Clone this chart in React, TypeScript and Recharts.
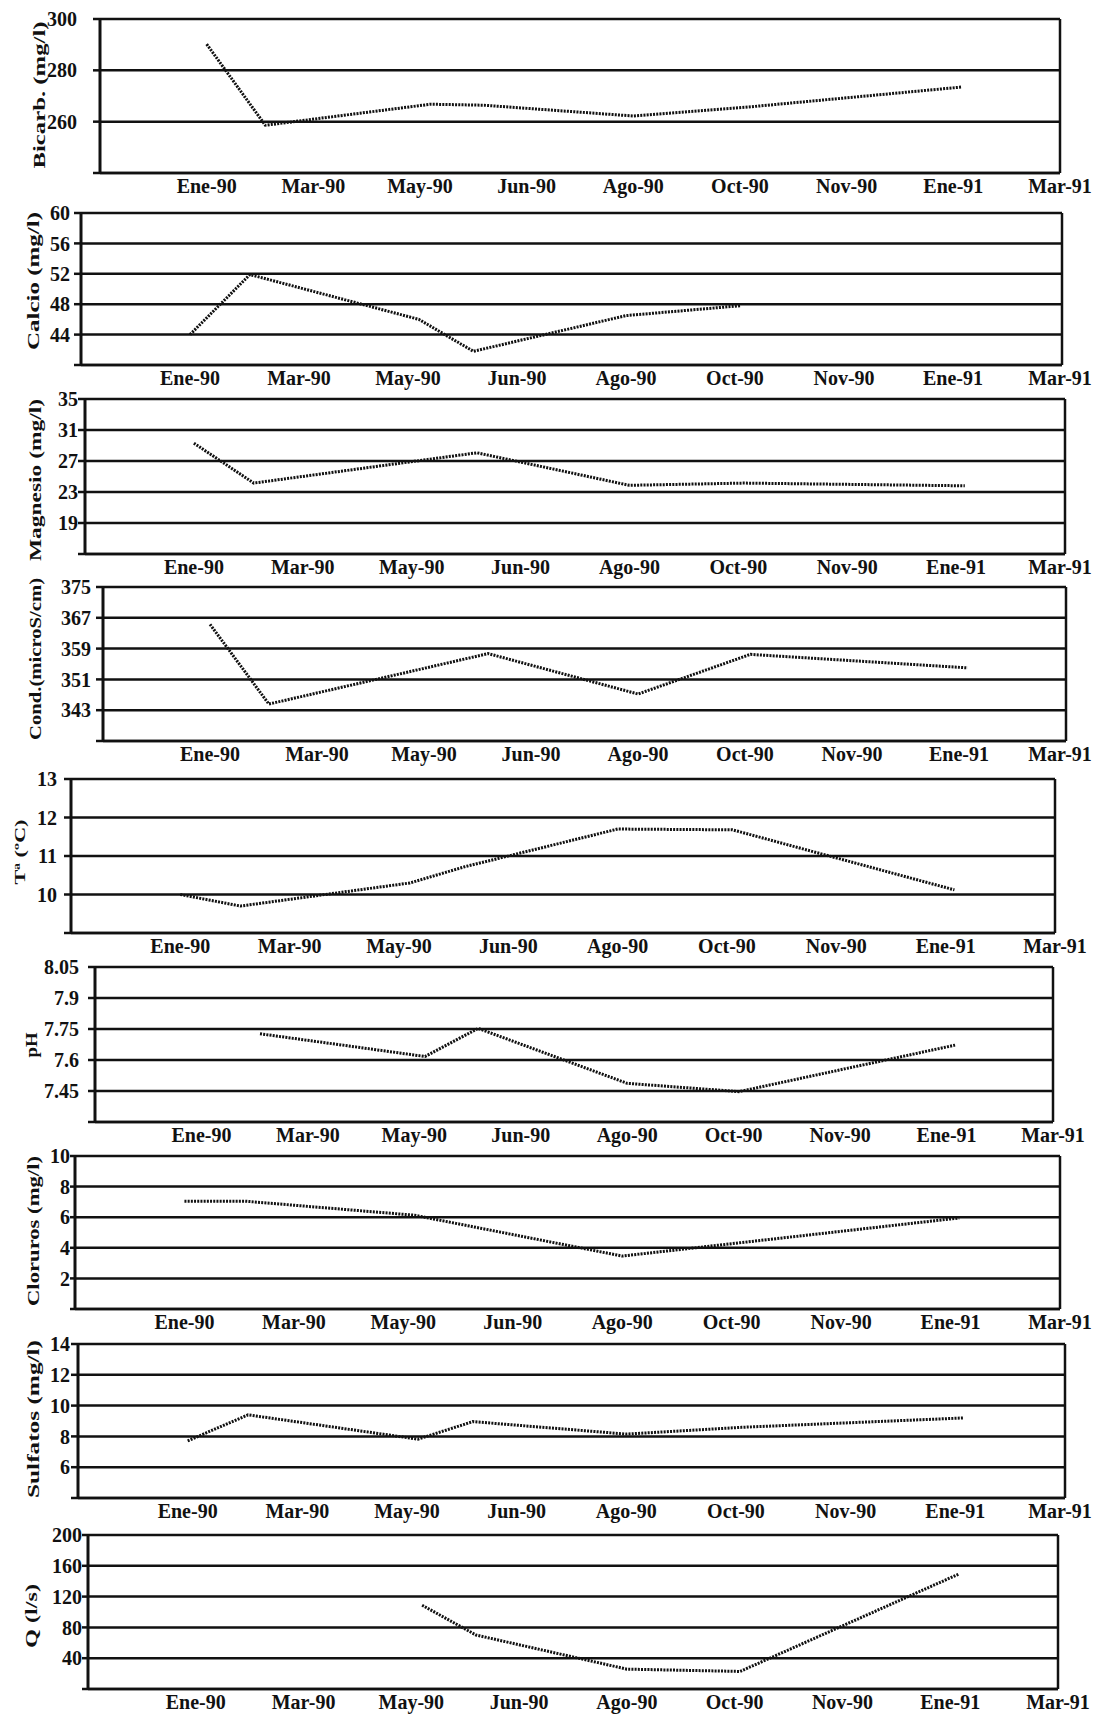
import React from 'react';
import { LineChart, Line, XAxis, YAxis, CartesianGrid, ReferenceLine } from 'recharts';

// x axis: slot 0 is the blank left edge, slots 1..9 carry the month labels
const monthLabels = ['', 'Ene-90', 'Mar-90', 'May-90', 'Jun-90', 'Ago-90', 'Oct-90', 'Nov-90', 'Ene-91', 'Mar-91'];
const xTicks = [0, 1, 2, 3, 4, 5, 6, 7, 8, 9];

// sampling dates, in label slots
const sampleTimes = [1.0, 1.55, 3.1, 3.6, 5.0, 6.05, 8.08];

// values (null = no sample)
const bicarb = [290.2, 258.6, 266.8, 266.4, 262.2, 265.6, 273.5];
const calcio = [44.0, 51.9, 46.0, 41.8, 46.5, 47.8, null];
const magnesio = [29.3, 24.15, null, 28.06, 23.86, 24.15, 23.8];
const cond = [365.3, 344.6, null, 357.7, 347.2, 357.5, 354.0];
const temp = [10.0, 9.7, 10.3, 10.72, 11.7, 11.68, 10.12];
const ph = [null, 7.727, 7.617, 7.753, 7.487, 7.447, 7.672];
const cloruros = [7.05, 7.05, 6.13, null, 3.46, null, 5.95];
const sulfatos = [7.71, 9.4, 7.82, 8.96, 8.15, 8.59, 9.2];
const caudal = [null, null, 108.8, 70.1, 25.8, 22.8, 149.3];

const bicarbTicks = [240, 260, 280, 300];
const calcioTicks = [40, 44, 48, 52, 56, 60];
const magnesioTicks = [15, 19, 23, 27, 31, 35];
const condTicks = [335, 343, 351, 359, 367, 375];
const tempTicks = [9, 10, 11, 12, 13];
const phTicks = [7.3, 7.45, 7.6, 7.75, 7.9, 8.05];
const clorurosTicks = [0, 2, 4, 6, 8, 10];
const sulfatosTicks = [4, 6, 8, 10, 12, 14];
const caudalTicks = [0, 40, 80, 120, 160, 200];

const FONT = "'Liberation Serif', 'Times New Roman', serif";
const INK = '#111';
const W = 1094;

// L/R/T/B = plot box, tickEnd = right edge of the y tick labels, lx/ly/len = rotated title
const panels = [
  { name: 'Bicarb. (mg/l)', values: bicarb, ticks: bicarbTicks, L: 100, R: 1060, T: 19, B: 173, tickEnd: 77, lx: 39, ly: 95, len: 147, fs: 17 },
  { name: 'Calcio (mg/l)', values: calcio, ticks: calcioTicks, L: 81, R: 1062, T: 213, B: 365, tickEnd: 70, lx: 33, ly: 281, len: 138, fs: 17 },
  { name: 'Magnesio (mg/l)', values: magnesio, ticks: magnesioTicks, L: 85, R: 1065, T: 399, B: 554, tickEnd: 78, lx: 35, ly: 480, len: 162, fs: 17 },
  { name: 'Cond.(microS/cm)', values: cond, ticks: condTicks, L: 103, R: 1066, T: 587, B: 741, tickEnd: 91, lx: 35, ly: 659, len: 162, fs: 17 },
  { name: 'Tª (ºC)', values: temp, ticks: tempTicks, L: 71, R: 1055, T: 779, B: 933, tickEnd: 57, lx: 20, ly: 852, len: 65, fs: 15 },
  { name: 'pH', values: ph, ticks: phTicks, L: 95, R: 1053, T: 967, B: 1122, tickEnd: 79, lx: 31, ly: 1045, len: 25, fs: 17 },
  { name: 'Cloruros (mg/l)', values: cloruros, ticks: clorurosTicks, L: 75, R: 1060, T: 1156, B: 1309, tickEnd: 70, lx: 33, ly: 1231, len: 150, fs: 17 },
  { name: 'Sulfatos (mg/l)', values: sulfatos, ticks: sulfatosTicks, L: 78, R: 1065, T: 1344, B: 1498, tickEnd: 70, lx: 33, ly: 1419, len: 158, fs: 17 },
  { name: 'Q (l/s)', values: caudal, ticks: caudalTicks, L: 88, R: 1058, T: 1535, B: 1689, tickEnd: 82, lx: 31, ly: 1616, len: 64, fs: 17 },
];

const PAD_TOP = 12;
const PAD_BOTTOM = 45;
const X_AXIS_H = 30;

const renderXTick = (props: any) => {
  const { x, y, payload } = props;
  // keep the last label inside the page
  const cx = Math.min(x, W - 34);
  return (
    <text x={cx} y={y + 20} textAnchor="middle" fontFamily={FONT} fontSize={20} fontWeight={700} fill={INK}>
      {monthLabels[payload.value]}
    </text>
  );
};

function Panel({ p }: { p: (typeof panels)[number] }) {
  const height = p.B - p.T + PAD_TOP + PAD_BOTTOM;
  const offsetY = p.T - PAD_TOP;
  const data = sampleTimes.map((t, i) => ({ t, v: p.values[i] }));
  const lo = p.ticks[0];
  const hi = p.ticks[p.ticks.length - 1];
  const room = p.L - p.tickEnd;
  const tickSize = Math.min(7, room);
  const tickMargin = Math.max(0, room - tickSize);

  return (
    <div style={{ position: 'absolute', left: 0, top: offsetY, width: W, height }}>
      <LineChart
        width={W}
        height={height}
        data={data}
        margin={{ top: PAD_TOP, right: W - p.R, bottom: PAD_BOTTOM - X_AXIS_H, left: 0 }}
      >
        <CartesianGrid vertical={false} stroke={INK} strokeWidth={2.5} />
        <XAxis
          type="number"
          dataKey="t"
          domain={[0, 9]}
          ticks={xTicks}
          interval={0}
          height={X_AXIS_H}
          tickLine={false}
          tickSize={0}
          tickMargin={0}
          axisLine={{ stroke: INK, strokeWidth: 2.5 }}
          tick={renderXTick}
        />
        <YAxis
          type="number"
          domain={[lo, hi]}
          ticks={p.ticks}
          interval={0}
          width={p.L}
          tickSize={tickSize}
          tickMargin={tickMargin}
          tickLine={{ stroke: INK, strokeWidth: 2.5 }}
          axisLine={{ stroke: INK, strokeWidth: 3 }}
          tick={{ fill: INK, fontSize: 20, fontWeight: 700, fontFamily: FONT }}
          tickFormatter={(v: number) => (v === lo ? '' : String(v))}
        />
        <ReferenceLine x={9} stroke={INK} strokeWidth={2.5} />
        <Line
          type="linear"
          dataKey="v"
          stroke={INK}
          strokeWidth={3}
          strokeDasharray="2 1.2"
          dot={false}
          connectNulls
          isAnimationActive={false}
        />
      </LineChart>
      {/* rotated axis title */}
      <svg
        width={60}
        height={height}
        style={{ position: 'absolute', left: 0, top: 0, overflow: 'visible', pointerEvents: 'none' }}
      >
        <text
          x={p.lx}
          y={p.ly - offsetY}
          transform={`rotate(-90 ${p.lx} ${p.ly - offsetY})`}
          textAnchor="middle"
          dominantBaseline="central"
          fontFamily={FONT}
          fontSize={p.fs}
          fontWeight={700}
          fill={INK}
          textLength={p.len}
          lengthAdjust="spacingAndGlyphs"
        >
          {p.name}
        </text>
      </svg>
    </div>
  );
}

export default function App() {
  return (
    <div style={{ position: 'absolute', left: 0, top: 0, width: W, height: 1716, background: '#fff' }}>
      {panels.map((p) => (
        <Panel key={p.name} p={p} />
      ))}
    </div>
  );
}
